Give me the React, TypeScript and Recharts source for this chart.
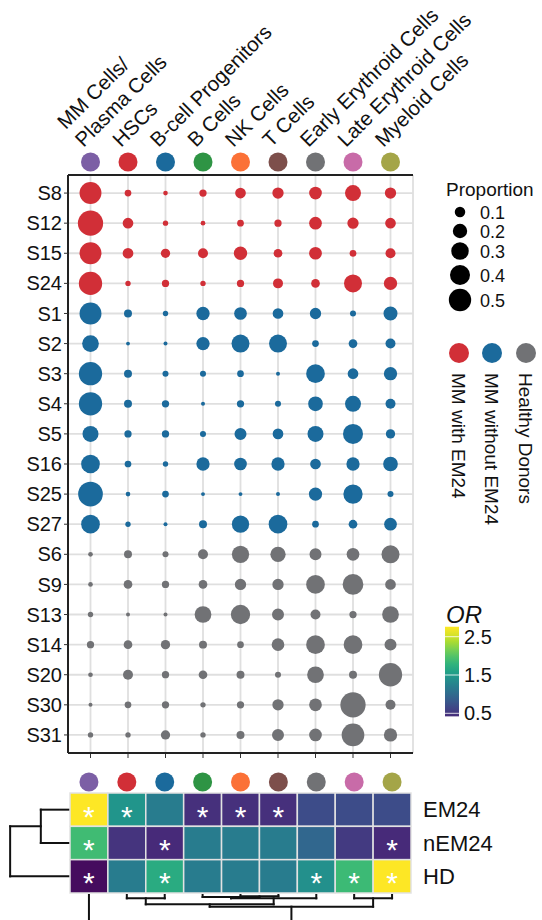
import React from 'react';
import { ScatterChart, Scatter, XAxis, YAxis, ZAxis, CartesianGrid, ReferenceLine } from 'recharts';

const FONT = "'Liberation Sans', Arial, Helvetica, sans-serif";

// cell populations, one column each
const cellTypes = [
  'MM Cells/\nPlasma Cells',
  'HSCs',
  'B-cell Progenitors',
  'B Cells',
  'NK Cells',
  'T Cells',
  'Early Erythroid Cells',
  'Late Erythroid Cells',
  'Myeloid Cells',
];
const cellColors = ['#7c5fa5', '#d12f37', '#1b6a9c', '#2e9444', '#fb7137', '#7d4f4b', '#717275', '#c86ba8', '#a4a548'];

const em24Samples = ['S8', 'S12', 'S15', 'S24'];
const nonEm24Samples = ['S1', 'S2', 'S3', 'S4', 'S5', 'S16', 'S25', 'S27'];
const donorSamples = ['S6', 'S9', 'S13', 'S14', 'S20', 'S30', 'S31'];
const samples = [...em24Samples, ...nonEm24Samples, ...donorSamples];

const groupNames = ['MM with EM24', 'MM without EM24', 'Healthy Donors'];
const groupColors = ['#d12f37', '#1b6a9c', '#717275'];

// proportion of each population per sample (rows follow `samples`)
const proportions = [
  [0.48, 0.034, 0.01, 0.042, 0.105, 0.119, 0.153, 0.25, 0.119],
  [0.64, 0.105, 0.017, 0.01, 0.034, 0.042, 0.153, 0.119, 0.105],
  [0.48, 0.105, 0.076, 0.09, 0.169, 0.065, 0.153, 0.034, 0.09],
  [0.545, 0.017, 0.042, 0.017, 0.042, 0.09, 0.065, 0.32, 0.169],
  [0.48, 0.053, 0.017, 0.169, 0.153, 0.105, 0.119, 0.025, 0.189],
  [0.274, 0.003, 0.004, 0.169, 0.32, 0.32, 0.034, 0.065, 0.09],
  [0.545, 0.053, 0.025, 0.025, 0.034, 0.004, 0.346, 0.105, 0.169],
  [0.545, 0.053, 0.042, 0.004, 0.042, 0.025, 0.209, 0.25, 0.09],
  [0.25, 0.042, 0.042, 0.025, 0.135, 0.105, 0.25, 0.398, 0.076],
  [0.346, 0.034, 0.017, 0.169, 0.153, 0.169, 0.105, 0.169, 0.209],
  [0.613, 0.01, 0.034, 0.003, 0.003, 0.004, 0.169, 0.37, 0.025],
  [0.346, 0.017, 0.004, 0.053, 0.295, 0.346, 0.034, 0.065, 0.153],
  [0.01, 0.053, 0.025, 0.09, 0.295, 0.228, 0.135, 0.153, 0.32],
  [0.01, 0.065, 0.042, 0.065, 0.119, 0.119, 0.346, 0.427, 0.105],
  [0.017, 0.004, 0.004, 0.274, 0.37, 0.135, 0.09, 0.042, 0.274],
  [0.042, 0.065, 0.076, 0.053, 0.034, 0.153, 0.346, 0.346, 0.135],
  [0.01, 0.09, 0.042, 0.065, 0.053, 0.025, 0.274, 0.053, 0.545],
  [0.004, 0.034, 0.042, 0.017, 0.042, 0.119, 0.153, 0.644, 0.09],
  [0.017, 0.017, 0.076, 0.017, 0.053, 0.135, 0.153, 0.516, 0.169],
];
const sizeLegendValues = [0.1, 0.2, 0.3, 0.4, 0.5];

// odds ratios per group vs population
const heatRows = ['EM24', 'nEM24', 'HD'];
const oddsRatio = [
  [2.7, 1.45, 1.19, 0.46, 0.46, 0.46, 0.7, 0.7, 0.7],
  [1.89, 0.49, 0.41, 1.19, 1.19, 1.19, 0.96, 0.54, 0.41],
  [0.18, 1.19, 1.69, 1.19, 1.19, 1.19, 1.4, 1.87, 2.7],
];
const significant = [
  [1, 1, 0, 1, 1, 1, 0, 0, 0],
  [1, 0, 1, 0, 0, 0, 0, 0, 1],
  [1, 0, 1, 0, 0, 0, 1, 1, 1],
];
const orTicks = [0.5, 1.5, 2.5];

// hclust-style merges: negative = leaf (1-based), positive = earlier merge
const colMerge = [[-5, -6], [-4, 1], [2, -7], [-2, -3], [-8, -9], [4, 3], [6, 5], [-1, 7]];
const colMergeHeight = [0.04, 0.06, 0.1, 0.1, 0.1, 0.28, 0.35, 1.2];
const rowMerge = [[-1, -2], [-3, 1]];
const rowMergeHeight = [0.77, 1.58];

const colTicks = cellTypes.map((_, i) => i);
const rowTicks = samples.map((_, i) => i);

// dot area grows linearly with proportion
const sizeArea = (p: number) => (Math.PI / 4) * (12 + 975 * p);
const allP = proportions.flat();
const pMin = Math.min(...allP);
const pMax = Math.max(...allP);

const dotData = (names: string[]) =>
  names.flatMap((s) => {
    const r = samples.indexOf(s);
    return proportions[r].map((p, c) => ({ x: c, y: r, z: p }));
  });

const OR_MIN = 0.1;
const OR_MAX = 2.7;
const VIRIDIS = ['#440154', '#482878', '#3e4a89', '#31688e', '#26828e', '#1f9e89', '#35b779', '#6dcd59', '#b4de2c', '#fde725'];

function viridis(v: number) {
  const t = Math.min(1, Math.max(0, (v - OR_MIN) / (OR_MAX - OR_MIN))) * (VIRIDIS.length - 1);
  const i = Math.min(VIRIDIS.length - 2, Math.floor(t));
  const f = t - i;
  const a = parseInt(VIRIDIS[i].slice(1), 16);
  const b = parseInt(VIRIDIS[i + 1].slice(1), 16);
  const mix = (sh: number) => Math.round(((a >> sh) & 255) * (1 - f) + ((b >> sh) & 255) * f);
  return `rgb(${mix(16)},${mix(8)},${mix(0)})`;
}

type Seg = [[number, number], [number, number]];

// returns segments in (position, height) space
function dendroSegments(merge: number[][], heights: number[]): Seg[] {
  const pos: number[] = [];
  const segs: Seg[] = [];
  merge.forEach(([l, r], k) => {
    const get = (n: number): [number, number] => (n < 0 ? [-n - 1, 0] : [pos[n - 1], heights[n - 1]]);
    const [pl, hl] = get(l);
    const [pr, hr] = get(r);
    const h = heights[k];
    segs.push([[pl, hl], [pl, h]], [[pr, hr], [pr, h]], [[pl, h], [pr, h]]);
    pos[k] = (pl + pr) / 2;
  });
  return segs;
}

const heatData = heatRows.flatMap((_, r) =>
  oddsRatio[r].map((v, c) => ({ x: c, y: r, or: v, sig: significant[r][c] === 1 })),
);

const HEAT_W = 542;
const HEAT_H = 150;
const HEAT_TOP = 23;
const HEAT_M = { top: 0, right: 0, bottom: 27, left: 70 };
const HEAT_RIGHT = 131;
const CELL_W = (HEAT_W - HEAT_M.left - HEAT_RIGHT) / cellTypes.length;
const CELL_H = (HEAT_H - HEAT_TOP - HEAT_M.bottom) / heatRows.length;

const PANEL_BOTTOM = 753;

function DotPlotTopTick(props: any) {
  const { x, payload } = props;
  const i = payload.value as number;
  const lines = cellTypes[i].split('\n');
  return (
    <g>
      <circle cx={x} cy={162} r={9.5} fill={cellColors[i]} />
      <text transform={`translate(${x - 7},148) rotate(-45)`} fontSize={20.5} fill="#111" fontFamily={FONT}>
        {lines.map((ln, k) => (
          <tspan key={k} x={0} y={(k - lines.length + 1) * 25}>
            {ln}
          </tspan>
        ))}
      </text>
      {/* small tick under the panel for this column */}
      <line x1={x} x2={x} y1={PANEL_BOTTOM + 1} y2={PANEL_BOTTOM + 5} stroke="#333" strokeWidth={1} />
    </g>
  );
}

function HeatTopTick(props: any) {
  const { x, payload } = props;
  return <circle cx={x} cy={12} r={9.5} fill={cellColors[payload.value as number]} />;
}

function HeatCell(props: any) {
  const { cx, cy, payload } = props;
  return (
    <g>
      <rect
        x={cx - CELL_W / 2}
        y={cy - CELL_H / 2}
        width={CELL_W}
        height={CELL_H}
        fill={viridis(payload.or)}
        stroke="#e2e2e2"
        strokeWidth={1.5}
      />
      {payload.sig && (
        <text x={cx} y={cy + 17} textAnchor="middle" fontSize={30} fill="#fff" fontFamily={FONT}>
          *
        </text>
      )}
    </g>
  );
}

function Legends() {
  const legendY = [212, 231, 251, 275, 300];
  const gx = [459, 492, 526];
  const cb = (v: number) => 675 - (v - 1.5) * 38.3;
  const cbLo = 0.42;
  const cbHi = 2.76;
  const stops = Array.from({ length: 13 }, (_, k) => cbLo + ((cbHi - cbLo) * k) / 12);
  return (
    <svg width={542} height={920} style={{ position: 'absolute', left: 0, top: 0, pointerEvents: 'none' }} fontFamily={FONT}>
      <defs>
        <linearGradient id="orGrad" x1="0" y1="1" x2="0" y2="0">
          {stops.map((v, k) => (
            <stop key={k} offset={`${(k / 12) * 100}%`} stopColor={viridis(v)} />
          ))}
        </linearGradient>
      </defs>
      <text x={446} y={196} fontSize={19} fill="#111">
        Proportion
      </text>
      {sizeLegendValues.map((p, k) => (
        <g key={p}>
          <circle cx={460} cy={legendY[k]} r={Math.sqrt(sizeArea(p) / Math.PI)} fill="#000" />
          <text x={480} y={legendY[k] + 6.5} fontSize={18} fill="#111">
            {p.toFixed(1)}
          </text>
        </g>
      ))}
      {groupNames.map((g, k) => (
        <g key={g}>
          <circle cx={gx[k]} cy={353} r={10} fill={groupColors[k]} />
          <text transform={`translate(${gx[k]},373) rotate(90)`} dy="0.36em" fontSize={19} fill="#111">
            {g}
          </text>
        </g>
      ))}
      <text x={446} y={623} fontSize={24} fontStyle="italic" fill="#111">
        OR
      </text>
      <rect x={445} y={cb(cbHi)} width={14} height={cb(cbLo) - cb(cbHi)} fill="url(#orGrad)" />
      {orTicks.map((v) => (
        <g key={v}>
          <line x1={445} x2={459} y1={cb(v)} y2={cb(v)} stroke="#fff" strokeOpacity={0.8} strokeWidth={1} />
          <text x={464} y={cb(v) + 7} fontSize={20} fill="#111">
            {v.toFixed(1)}
          </text>
        </g>
      ))}
    </svg>
  );
}

const border = { stroke: '#222', strokeWidth: 2 };

export default function App() {
  const colSegs = dendroSegments(colMerge, colMergeHeight);
  const rowSegs = dendroSegments(rowMerge, rowMergeHeight);
  const gap = 0.06;
  return (
    <div
      style={{
        position: 'absolute',
        left: 0,
        top: 0,
        width: 542,
        height: 920,
        background: '#fff',
        fontFamily: FONT,
        overflow: 'hidden',
      }}
    >
      <div style={{ position: 'absolute', left: 0, top: 0 }}>
        <ScatterChart width={542} height={770} margin={{ top: 0, right: 129, bottom: 0, left: 0 }}>
          <CartesianGrid xAxisId="top" yAxisId="left" stroke="#dfdfdf" strokeWidth={1.8} />
          <XAxis
            xAxisId="top"
            orientation="top"
            type="number"
            dataKey="x"
            domain={[-0.6, 8.6]}
            ticks={colTicks}
            interval={0}
            height={175}
            axisLine={border}
            tickLine={false}
            tick={(p: any) => <DotPlotTopTick {...p} />}
          />
          <XAxis
            xAxisId="bottom"
            type="number"
            domain={[-0.6, 8.6]}
            allowDataOverflow
            height={17}
            axisLine={border}
            tick={false}
            tickLine={false}
          />
          <YAxis
            yAxisId="left"
            type="number"
            dataKey="y"
            domain={[-0.6, 18.6]}
            reversed
            ticks={rowTicks}
            interval={0}
            width={68}
            axisLine={border}
            tickLine={{ stroke: '#333' }}
            tickSize={4}
            tickMargin={2}
            tick={{ fontSize: 20, fill: '#111' }}
            tickFormatter={(i: number) => samples[i]}
          />
          <YAxis
            yAxisId="right"
            orientation="right"
            type="number"
            domain={[-0.6, 18.6]}
            allowDataOverflow
            reversed
            width={0}
            axisLine={border}
            tick={false}
            tickLine={false}
          />
          <ZAxis type="number" dataKey="z" domain={[pMin, pMax]} range={[sizeArea(pMin), sizeArea(pMax)]} />
          <Scatter xAxisId="top" yAxisId="left" data={dotData(em24Samples)} fill={groupColors[0]} isAnimationActive={false} />
          <Scatter xAxisId="top" yAxisId="left" data={dotData(nonEm24Samples)} fill={groupColors[1]} isAnimationActive={false} />
          <Scatter xAxisId="top" yAxisId="left" data={dotData(donorSamples)} fill={groupColors[2]} isAnimationActive={false} />
        </ScatterChart>
      </div>

      <div style={{ position: 'absolute', left: 0, top: 770 }}>
        <ScatterChart width={HEAT_W} height={HEAT_H} margin={HEAT_M}>
          <XAxis
            xAxisId="top"
            orientation="top"
            type="number"
            dataKey="x"
            domain={[-0.5, 8.5]}
            ticks={colTicks}
            interval={0}
            height={HEAT_TOP}
            axisLine={false}
            tickLine={false}
            tick={(p: any) => <HeatTopTick {...p} />}
          />
          <YAxis
            yAxisId="right"
            orientation="right"
            type="number"
            dataKey="y"
            domain={[-0.5, 2.5]}
            reversed
            ticks={[0, 1, 2]}
            interval={0}
            width={HEAT_RIGHT}
            axisLine={false}
            tickLine={false}
            tickSize={0}
            tickMargin={12}
            tick={{ fontSize: 22, fill: '#111', textAnchor: 'start' }}
            tickFormatter={(i: number) => heatRows[i]}
          />
          <Scatter
            xAxisId="top"
            yAxisId="right"
            data={heatData}
            shape={(p: any) => <HeatCell {...p} />}
            isAnimationActive={false}
          />
          {colSegs.map(([a, b], k) => (
            <ReferenceLine
              key={`c${k}`}
              xAxisId="top"
              yAxisId="right"
              segment={[
                { x: a[0], y: 2.5 + gap + a[1] },
                { x: b[0], y: 2.5 + gap + b[1] },
              ]}
              stroke="#111"
              strokeWidth={2}
              strokeLinecap="square"
              ifOverflow="visible"
            />
          ))}
          {rowSegs.map(([a, b], k) => (
            <ReferenceLine
              key={`r${k}`}
              xAxisId="top"
              yAxisId="right"
              segment={[
                { x: -0.5 - a[1], y: a[0] },
                { x: -0.5 - b[1], y: b[0] },
              ]}
              stroke="#111"
              strokeWidth={2}
              strokeLinecap="square"
              ifOverflow="visible"
            />
          ))}
        </ScatterChart>
      </div>

      <Legends />
    </div>
  );
}
